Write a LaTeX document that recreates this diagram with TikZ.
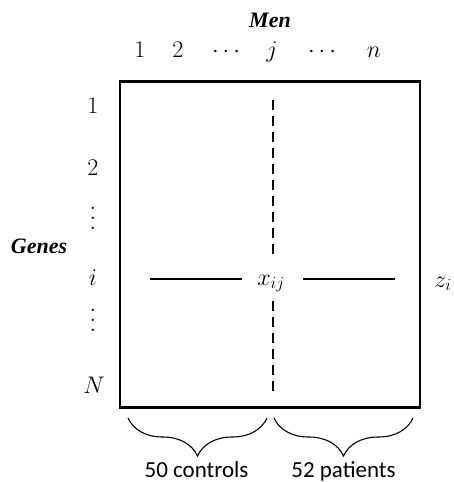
\RequirePackage{fix-cm}
\documentclass[tikz,border=0pt]{standalone}
\usepackage{fontspec}
\newfontfamily\labelserif{Liberation Serif}
\newfontfamily\labelsans{Carlito}
\usetikzlibrary{decorations.pathreplacing}
\newcommand\tallvdots{\vbox{\baselineskip=10pt\lineskiplimit=0pt\hbox{$.$}\hbox{$.$}\hbox{$.$}}}
\begin{document}
\begin{tikzpicture}[x=1pt,y=-1pt,
  mathlbl/.style={font=\fontsize{24}{28}\selectfont, inner sep=0pt, anchor=base},
  dotslbl/.style={font=\fontsize{24}{28}\selectfont, inner sep=0pt, anchor=center},
  titlelbl/.style={font=\labelserif\bfseries\itshape\fontsize{22}{26}\selectfont, inner sep=0pt, anchor=base},
  grouplbl/.style={font=\labelsans\fontsize{23}{27}\selectfont, inner sep=0pt, anchor=base},
  thinline/.style={line width=1.1pt},
  dashline/.style={line width=1.1pt, dash pattern=on 10pt off 6pt},
  bracestyle/.style={line width=1.1pt, decorate, decoration={brace, amplitude=38pt, aspect=0.5}}
]
\useasboundingbox (0,0) rectangle (453,482);
% matrix box
\node[draw, line width=2.6pt, minimum width=300pt, minimum height=326pt, inner sep=0pt] (box) at (270,244.5) {};
% titles
\node[titlelbl] (men) at (270,27) {Men};
\node[titlelbl] (genes) at (39,253) {Genes};
% column labels
\node[mathlbl] (c1) at (140,57) {$1$};
\node[mathlbl] (c2) at (178,57) {$2$};
\node[mathlbl] (cd1) at (226,57) {$\cdots$};
\node[mathlbl] (cj) at (272,57) {$j$};
\node[mathlbl] (cd2) at (322,57) {$\cdots$};
\node[mathlbl] (cn) at (374,57) {$n$};
% row labels
\node[mathlbl] (r1) at (93,113) {$1$};
\node[mathlbl] (r2) at (93,175) {$2$};
\node[dotslbl] (rd1) at (93,218) {\tallvdots};
\node[mathlbl] (ri) at (93,285) {$i$};
\node[dotslbl] (rd2) at (93,320) {\tallvdots};
\node[mathlbl] (rN) at (94,393) {$N$};
% entry
\node[mathlbl] (x) at (271,285) {$x_{ij}$};
\node[mathlbl] (z) at (443,287) {$z_i$};
% connectors
\coordinate (vt) at (273,100);
\coordinate (vb) at (273,391);
\coordinate (hl) at (150,279);
\coordinate (hr) at (395,279);
\draw[dashline] (vt) -- (273,258);
\draw[dashline] (273,301) -- (vb);
\draw[thinline] (hl) -- (242,279);
\draw[thinline] (303,279) -- (hr);
% braces
\coordinate (b1l) at (128,418);
\coordinate (b1r) at (267,418);
\coordinate (b2l) at (274,418);
\coordinate (b2r) at (413,418);
\draw[bracestyle] (b1r) -- (b1l);
\draw[bracestyle] (b2r) -- (b2l);
\node[grouplbl] (ctrl) at (196.5,477.5) {50 controls};
\node[grouplbl] (pat) at (343.5,477.5) {52 patients};
\end{tikzpicture}
\end{document}
